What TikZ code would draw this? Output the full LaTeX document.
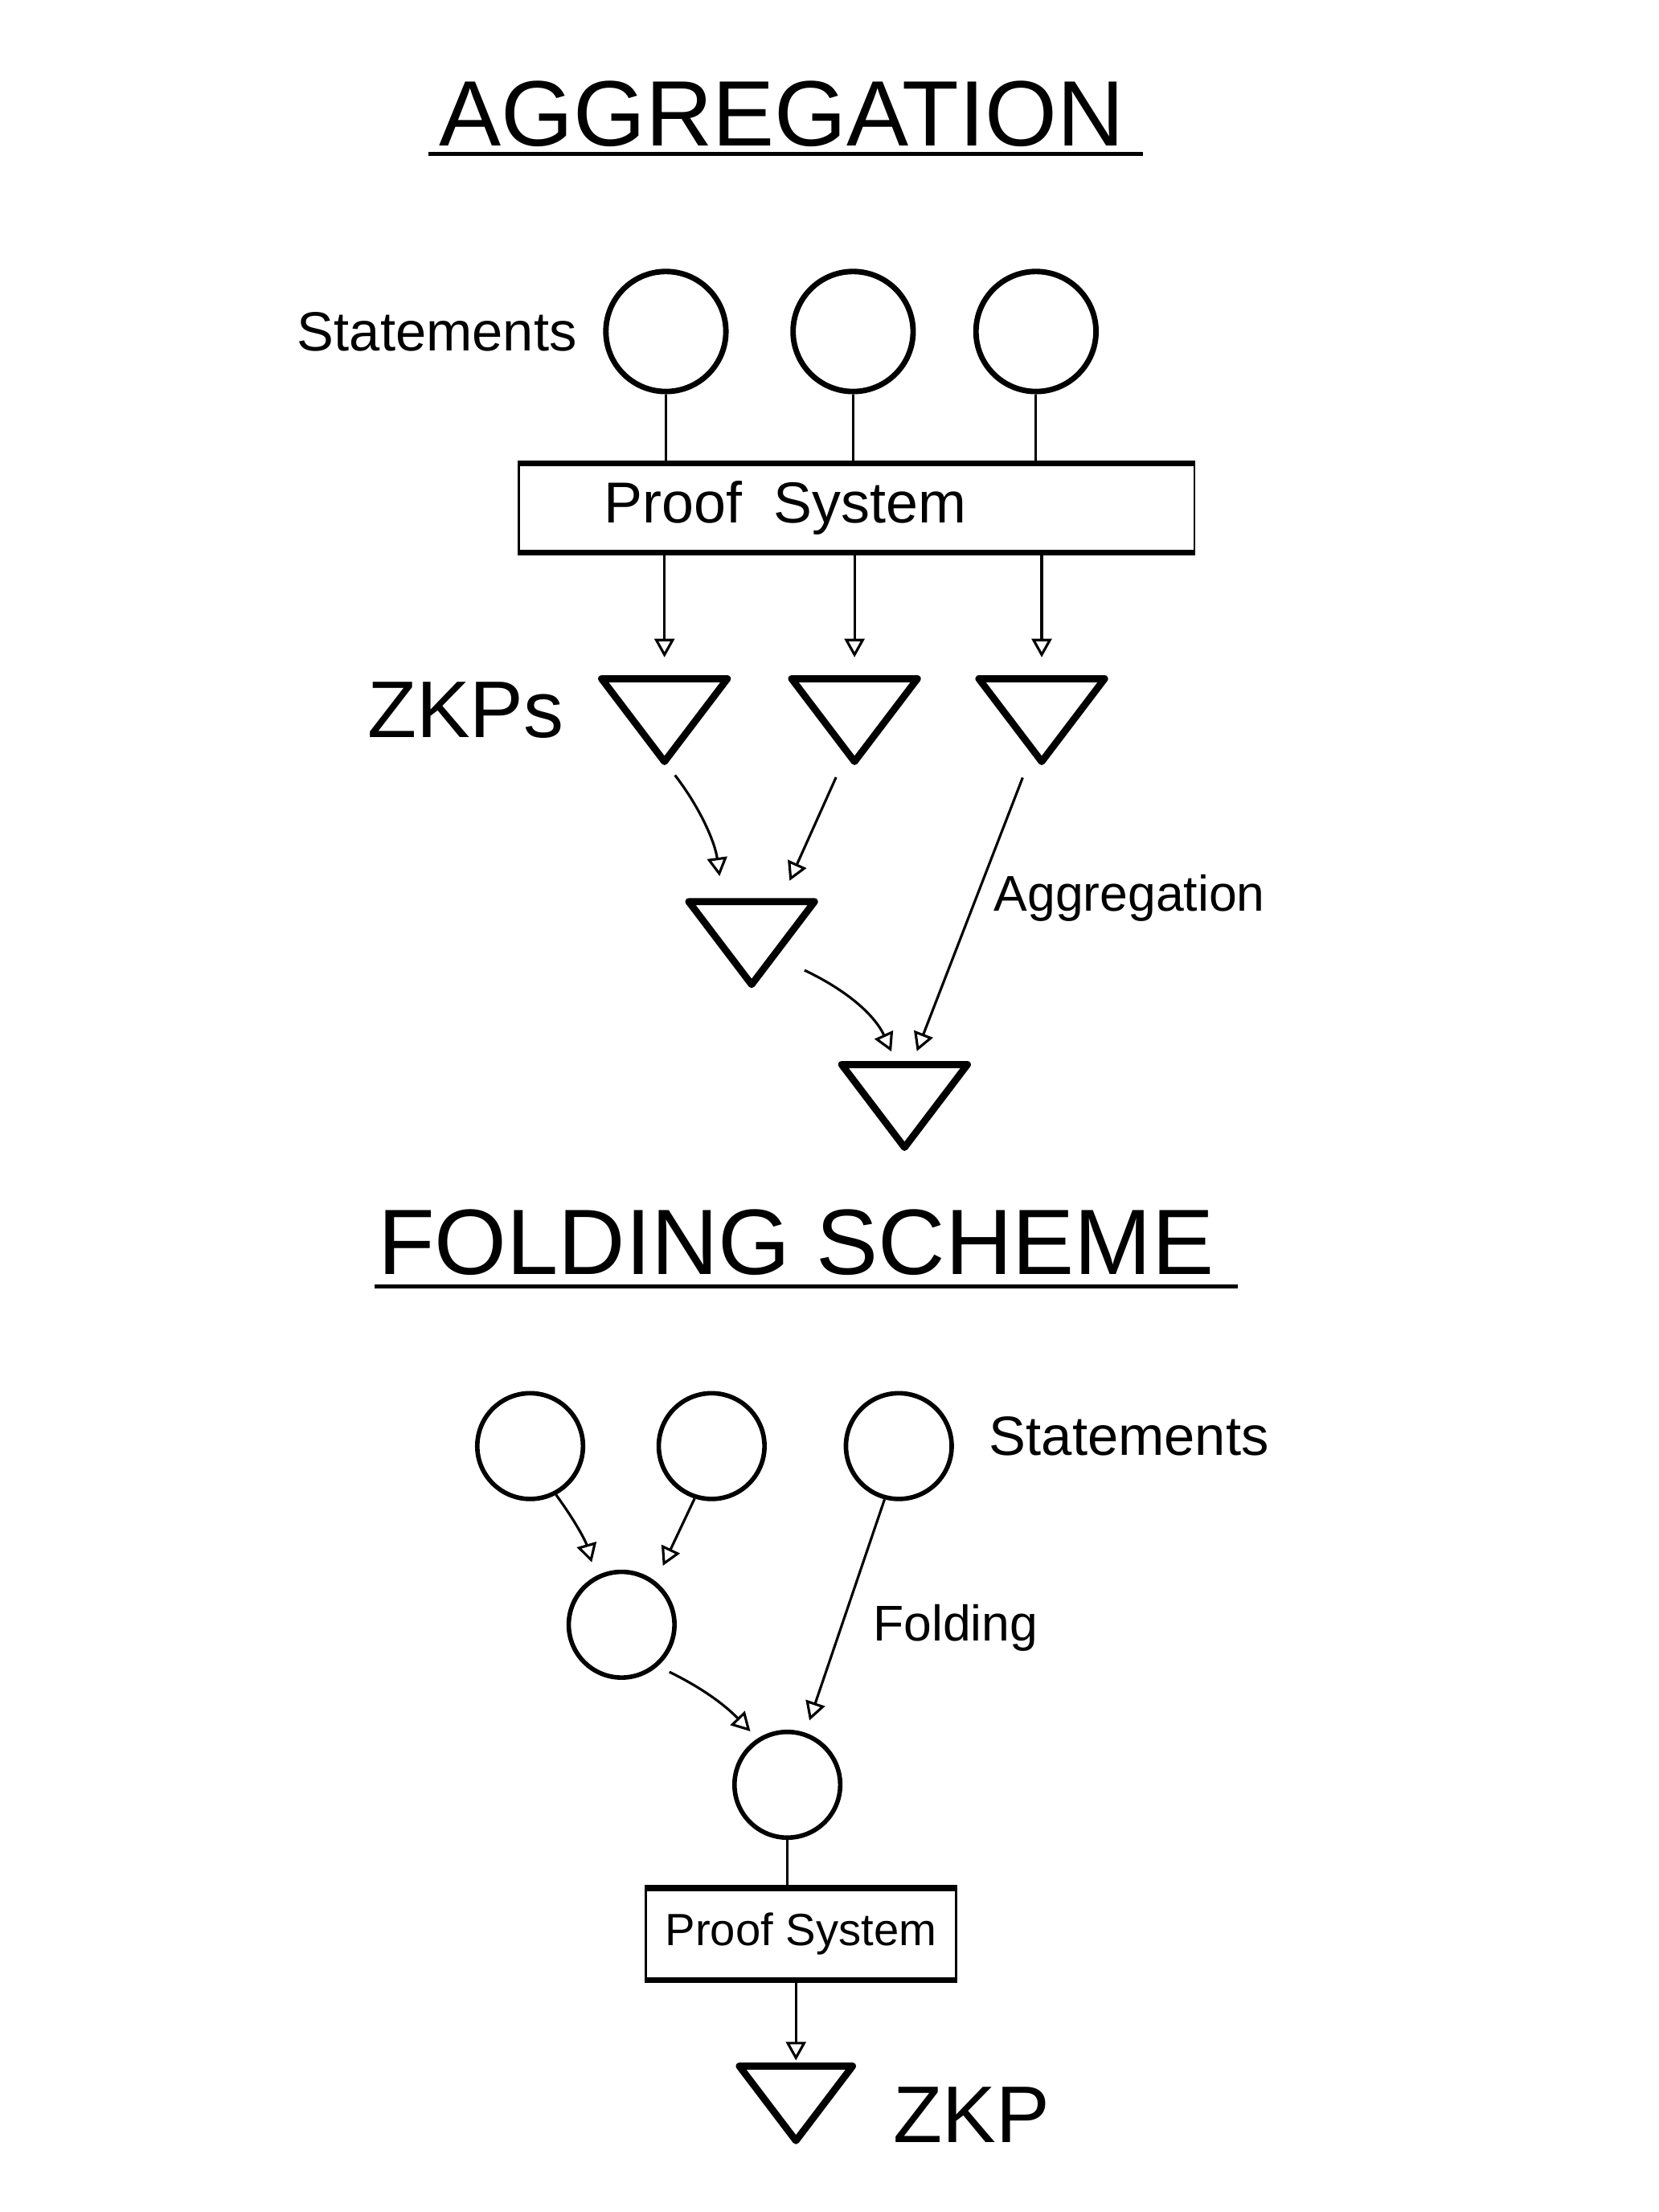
\documentclass[tikz,border=0pt]{standalone}
\usepackage{fontspec}
\setmainfont{Liberation Sans}
\usetikzlibrary{shapes,arrows.meta,positioning}

\begin{document}
\begin{tikzpicture}[stmt/.style={circle,draw,line width=1.1pt,minimum size=0.84cm,inner sep=0pt},
  sstmt/.style={circle,draw,line width=0.9pt,minimum size=0.74cm,inner sep=0pt},
  prf/.style={draw,line width=0.4pt,inner sep=0pt},
  arr/.style={-{Triangle[open,length=1.3mm,width=1.4mm]},line width=0.5pt},
  zkp/.pic={\draw[line width=1.4pt,line join=round] (-0.44,0.29) -- (0.44,0.29) -- (0,-0.29) -- cycle;
    \coordinate (-top) at (0,0.29);
    \coordinate (-apex) at (0,-0.29);}]
\useasboundingbox (0,0) rectangle (11.61,-15.48);

\node[anchor=base,font=\fontsize{18.5}{22}\selectfont] (title1) at (5.47,-1.02) {AGGREGATION};
\draw[line width=0.8pt] (3.0,-1.08) -- (8.0,-1.08);

\node[stmt] (s1) at (4.66,-2.32) {};
\node[stmt] (s2) at (5.97,-2.32) {};
\node[stmt] (s3) at (7.25,-2.32) {};
\node[anchor=east,font=\fontsize{11}{13}\selectfont] (st1) at (4.16,-2.32) {Statements};

\node[prf,minimum width=4.73cm,minimum height=0.61cm,font=\fontsize{11.5}{14}\selectfont] (ps1) at (5.995,-3.555) {Proof\ \ System\kern1.0cm};
\draw[line width=1.2pt] (ps1.north west) -- (ps1.north east);
\draw[line width=1.2pt] (ps1.south west) -- (ps1.south east);
\draw[line width=0.5pt] (s1) -- (s1 |- ps1.north);
\draw[line width=0.5pt] (s2) -- (s2 |- ps1.north);
\draw[line width=0.5pt] (s3) -- (s3 |- ps1.north);

\pic (z1) at (4.65,-5.04) {zkp};
\pic (z2) at (5.98,-5.04) {zkp};
\pic (z3) at (7.29,-5.04) {zkp};
\pic (z4) at (5.26,-6.60) {zkp};
\pic (z5) at (6.33,-7.74) {zkp};
\node[anchor=east,font=\fontsize{16}{18}\selectfont] (zkps) at (4.07,-4.97) {ZKPs};

\draw[arr,shorten >=1.5mm] (ps1.south -| z1-top) -- (z1-top);
\draw[arr,shorten >=1.5mm] (ps1.south -| z2-top) -- (z2-top);
\draw[arr,shorten >=1.5mm] (ps1.south -| z3-top) -- (z3-top);

\draw[arr,shorten <=1.2mm,shorten >=1.8mm] (z1-apex) to[bend left=15] ([xshift=-2mm]z4-top);
\draw[arr,shorten <=1.2mm,shorten >=1.6mm] ([xshift=-0.8mm]z2-apex) -- ([xshift=2mm]z4-top);
\draw[arr,shorten <=1.2mm,shorten >=1mm] ([xshift=-0.9mm]z3-apex) -- node[pos=0.45,right,font=\fontsize{10}{12}\selectfont] (agg) {Aggregation} ([xshift=0.5mm]z5-top);
\draw[arr,shorten >=1mm] ([xshift=3.7mm,yshift=1mm]z4-apex) to[bend left=20] ([xshift=-0.5mm]z5-top);

\node[anchor=base,font=\fontsize{18.5}{22}\selectfont] (title2) at (5.57,-8.92) {FOLDING SCHEME};
\draw[line width=0.8pt] (2.62,-9.0) -- (8.66,-9.0);

\node[sstmt] (c1) at (3.71,-10.12) {};
\node[sstmt] (c2) at (4.98,-10.12) {};
\node[sstmt] (c3) at (6.29,-10.12) {};
\node[sstmt] (c4) at (4.35,-11.37) {};
\node[sstmt] (c5) at (5.51,-12.49) {};
\node[anchor=west,font=\fontsize{11}{13}\selectfont] (st2) at (6.80,-10.05) {Statements};

\draw[arr,shorten >=1mm] (c1.-62) to[bend left=10] (c4.118);
\draw[arr,shorten >=1.2mm] (c2.-108) -- (c4.52);
\draw[arr,shorten >=0.9mm] (c3.-105) -- node[pos=0.55,right=1mm,font=\fontsize{10}{12}\selectfont] (fold) {Folding} (c5.71);
\draw[arr,shorten <=0.9mm,shorten >=0.7mm] (c4.-49) to[bend left=10] (c5.123);

\node[prf,minimum width=2.17cm,minimum height=0.63cm,font=\fontsize{9}{11}\selectfont] (ps2) at (5.605,-13.535) {Proof System};
\draw[line width=1.2pt] (ps2.north west) -- (ps2.north east);
\draw[line width=1.2pt] (ps2.south west) -- (ps2.south east);
\draw[line width=0.5pt] (c5) -- (c5 |- ps2.north);

\pic[scale=0.9] (zf) at (5.57,-14.72) {zkp};
\draw[arr,shorten >=0.4mm] (ps2.south -| zf-top) -- (zf-top);
\node[anchor=west,font=\fontsize{16}{18}\selectfont] (zkp1) at (6.13,-14.80) {ZKP};
\end{tikzpicture}
\end{document}
